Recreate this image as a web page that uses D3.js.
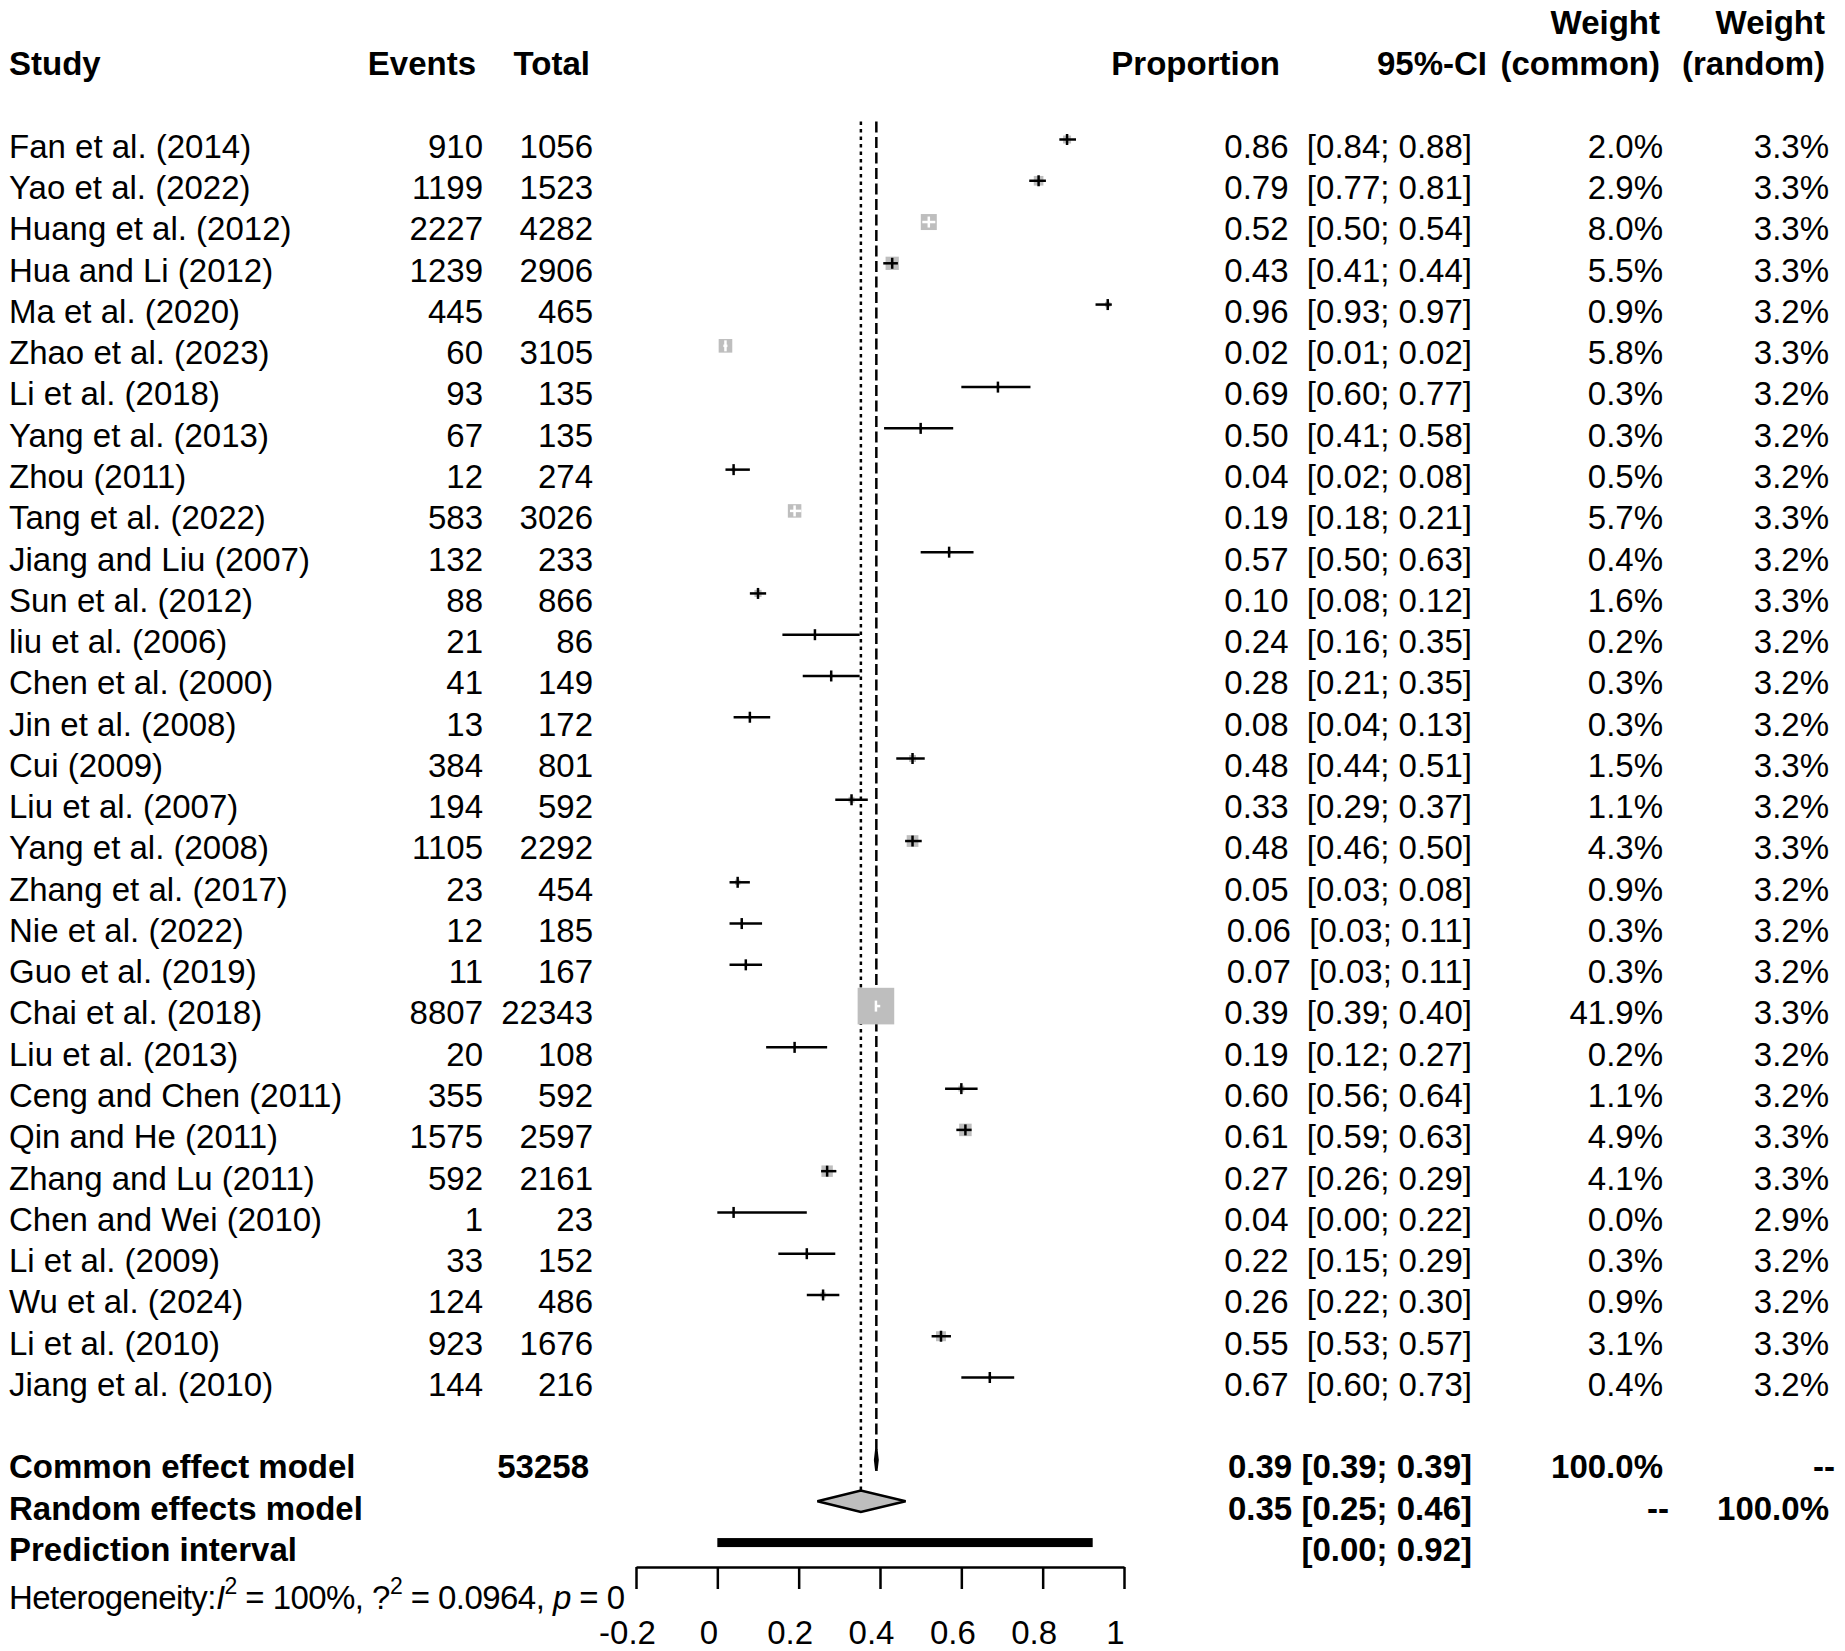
<!DOCTYPE html>
<html>
<head>
<meta charset="utf-8">
<script src="https://cdn.jsdelivr.net/npm/d3@7"></script>
<style>
  body { margin: 0; background: #fff; }
  text { font-family: "Liberation Sans", Arial, Helvetica, sans-serif; font-size: 33px; fill: #000; }
</style>
</head>
<body>
<svg id="chart" width="1845" height="1651"></svg>
<script>
// study rows, top to bottom
const studies = ['Fan et al. (2014)', 'Yao et al. (2022)', 'Huang et al. (2012)', 'Hua and Li (2012)',
  'Ma et al. (2020)', 'Zhao et al. (2023)', 'Li et al. (2018)', 'Yang et al. (2013)', 'Zhou (2011)',
  'Tang et al. (2022)', 'Jiang and Liu (2007)', 'Sun et al. (2012)', 'liu et al. (2006)', 'Chen et al. (2000)',
  'Jin et al. (2008)', 'Cui (2009)', 'Liu et al. (2007)', 'Yang et al. (2008)', 'Zhang et al. (2017)',
  'Nie et al. (2022)', 'Guo et al. (2019)', 'Chai et al. (2018)', 'Liu et al. (2013)', 'Ceng and Chen (2011)',
  'Qin and He (2011)', 'Zhang and Lu (2011)', 'Chen and Wei (2010)', 'Li et al. (2009)', 'Wu et al. (2024)',
  'Li et al. (2010)', 'Jiang et al. (2010)'];
const events = [910, 1199, 2227, 1239, 445, 60, 93, 67, 12, 583, 132, 88, 21, 41, 13, 384, 194, 1105, 23, 12, 11,
  8807, 20, 355, 1575, 592, 1, 33, 124, 923, 144];
const totals = [1056, 1523, 4282, 2906, 465, 3105, 135, 135, 274, 3026, 233, 866, 86, 149, 172, 801, 592, 2292,
  454, 185, 167, 22343, 108, 592, 2597, 2161, 23, 152, 486, 1676, 216];
const props = [0.86, 0.79, 0.52, 0.43, 0.96, 0.02, 0.69, 0.50, 0.04, 0.19, 0.57, 0.10, 0.24, 0.28, 0.08, 0.48,
  0.33, 0.48, 0.05, 0.06, 0.07, 0.39, 0.19, 0.60, 0.61, 0.27, 0.04, 0.22, 0.26, 0.55, 0.67];
const lowers = [0.841, 0.767, 0.504, 0.408, 0.93, 0.0148, 0.60, 0.41, 0.02, 0.1786, 0.50, 0.08, 0.16, 0.21, 0.04,
  0.44, 0.29, 0.4617, 0.03, 0.03, 0.03, 0.3878, 0.12, 0.56, 0.5877, 0.2551, 0.00, 0.15, 0.22, 0.5269, 0.60];
const uppers = [0.882, 0.808, 0.536, 0.444, 0.97, 0.0248, 0.77, 0.58, 0.08, 0.2067, 0.63, 0.12, 0.35, 0.35, 0.13,
  0.51, 0.37, 0.5026, 0.08, 0.11, 0.11, 0.4006, 0.27, 0.64, 0.6253, 0.2927, 0.22, 0.29, 0.30, 0.5745, 0.73];
const wCommon = [2.0, 2.9, 8.0, 5.5, 0.9, 5.8, 0.3, 0.3, 0.5, 5.7, 0.4, 1.6, 0.2, 0.3, 0.3, 1.5, 1.1, 4.3, 0.9,
  0.3, 0.3, 41.9, 0.2, 1.1, 4.9, 4.1, 0.0, 0.3, 0.9, 3.1, 0.4];
const wRandom = [3.3, 3.3, 3.3, 3.3, 3.2, 3.3, 3.2, 3.2, 3.2, 3.3, 3.2, 3.3, 3.2, 3.2, 3.2, 3.3, 3.2, 3.3, 3.2,
  3.2, 3.2, 3.3, 3.2, 3.2, 3.3, 3.3, 2.9, 3.2, 3.2, 3.3, 3.2];

// pooled estimates
const commonEst = [0.391, 0.388, 0.394];
const randomEst = [0.353, 0.246, 0.463];
const predInt = [0.0, 0.923];
const hetero = {i2: '100%', tau2: '0.0964', p: '0'};

const tickValues = [-0.2, 0, 0.2, 0.4, 0.6, 0.8, 1];
const tickLabels = ['-0.2', '0', '0.2', '0.4', '0.6', '0.8', '1'];

const svg = d3.select('#chart');
const x = d3.scaleLinear().domain([-0.2, 1]).range([636, 1124]);
const row = d3.scaleLinear().domain([0, 30]).range([146, 1384]);   // text centre of row i
const markY = i => row(i) - 6.5;
const f2 = v => v.toFixed(2);
const pct = v => v.toFixed(1) + '%';
const grey = '#bebebe';

// right edges of the columns
const col = {events: 483, total: 593, ci: 1472, wc: 1663, wr: 1829};

function txt(g, str, px, py, anchor, bold) {
  return g.append('text')
    .attr('x', px).attr('y', py).attr('dy', '0.36em')
    .attr('text-anchor', anchor || 'start')
    .attr('font-weight', bold ? 'bold' : null)
    .attr('xml:space', 'preserve')
    .text(str);
}

// header
const head = svg.append('g');
txt(head, 'Study', 9, row(-2), 'start', true);
txt(head, 'Events', col.events - 7, row(-2), 'end', true);
txt(head, 'Total', col.total - 3, row(-2), 'end', true);
txt(head, 'Proportion', 1280, row(-2), 'end', true);
txt(head, '95%-CI', col.ci + 15, row(-2), 'end', true);
txt(head, 'Weight', col.wc - 3, row(-3), 'end', true);
txt(head, '(common)', col.wc - 3, row(-2), 'end', true);
txt(head, 'Weight', col.wr - 4, row(-3), 'end', true);
txt(head, '(random)', col.wr - 4, row(-2), 'end', true);

// reference lines
const n = studies.length;
const sumRow = n + 1;
svg.append('line')
  .attr('x1', x(randomEst[0])).attr('x2', x(randomEst[0]))
  .attr('y1', markY(0) - 18).attr('y2', markY(sumRow + 1) - 10.7)
  .attr('stroke', '#000').attr('stroke-width', 2.5).attr('stroke-dasharray', '3.5,4');
svg.append('line')
  .attr('x1', x(commonEst[0])).attr('x2', x(commonEst[0]))
  .attr('y1', markY(0) - 18).attr('y2', markY(sumRow) + 10.7)
  .attr('stroke', '#000').attr('stroke-width', 2.5).attr('stroke-dasharray', '11,4.5');

// study rows
const rows = svg.append('g');
studies.forEach((s, i) => {
  const ty = row(i);
  txt(rows, s, 9, ty);
  txt(rows, String(events[i]), col.events, ty, 'end');
  txt(rows, String(totals[i]), col.total, ty, 'end');
  txt(rows, `${f2(props[i])}  [${f2(lowers[i])}; ${f2(uppers[i])}]`, col.ci, ty, 'end');
  txt(rows, pct(wCommon[i]), col.wc, ty, 'end');
  txt(rows, pct(wRandom[i]), col.wr, ty, 'end');

  const my = markY(i);
  const side = 5.654 * Math.sqrt(wCommon[i]);
  if (side > 0) {
    rows.append('rect')
      .attr('x', x(props[i]) - side / 2).attr('y', my - side / 2)
      .attr('width', side).attr('height', side)
      .attr('fill', grey);
  }
  const ciW = x(uppers[i]) - x(lowers[i]);
  const lineCol = ciW < side ? '#fff' : '#000';
  rows.append('line')
    .attr('x1', x(lowers[i])).attr('x2', x(uppers[i]))
    .attr('y1', my).attr('y2', my)
    .attr('stroke', lineCol).attr('stroke-width', 2.5);
  rows.append('line')
    .attr('x1', x(props[i])).attr('x2', x(props[i]))
    .attr('y1', my - 5.5).attr('y2', my + 5.5)
    .attr('stroke', lineCol).attr('stroke-width', 2.5);
});

// pooled rows
const pooled = svg.append('g');
txt(pooled, 'Common effect model', 9, row(sumRow), 'start', true);
txt(pooled, String(d3.sum(totals)), col.total - 4, row(sumRow), 'end', true);
txt(pooled, `${f2(commonEst[0])} [${f2(commonEst[1])}; ${f2(commonEst[2])}]`, col.ci, row(sumRow), 'end', true);
txt(pooled, '100.0%', col.wc, row(sumRow), 'end', true);
txt(pooled, '--', col.wr + 6, row(sumRow), 'end', true);

txt(pooled, 'Random effects model', 9, row(sumRow + 1), 'start', true);
txt(pooled, `${f2(randomEst[0])} [${f2(randomEst[1])}; ${f2(randomEst[2])}]`, col.ci, row(sumRow + 1), 'end', true);
txt(pooled, '--', col.wc + 6, row(sumRow + 1), 'end', true);
txt(pooled, '100.0%', col.wr, row(sumRow + 1), 'end', true);

txt(pooled, 'Prediction interval', 9, row(sumRow + 2), 'start', true);
txt(pooled, `[${f2(predInt[0])}; ${f2(predInt[1])}]`, col.ci, row(sumRow + 2), 'end', true);

const diamond = (est, yc, h) => {
  const [m, lo, hi] = est.map(x);
  return `M${lo},${yc} L${m},${yc - h} L${hi},${yc} L${m},${yc + h} Z`;
};
pooled.append('path')
  .attr('d', diamond(commonEst, markY(sumRow), 10.7))
  .attr('fill', grey).attr('stroke', '#000').attr('stroke-width', 2.5);
pooled.append('path')
  .attr('d', diamond(randomEst, markY(sumRow + 1), 10.7))
  .attr('fill', grey).attr('stroke', '#000').attr('stroke-width', 2.5);
pooled.append('rect')
  .attr('x', x(predInt[0])).attr('y', markY(sumRow + 2) - 4.5)
  .attr('width', x(predInt[1]) - x(predInt[0])).attr('height', 9)
  .attr('fill', '#000');

// heterogeneity line, squeezed to end just before the axis like the original
const het = svg.append('text')
  .attr('x', 9).attr('y', row(sumRow + 3) + 7).attr('dy', '0.36em')
  .attr('xml:space', 'preserve')
  .attr('textLength', 616).attr('lengthAdjust', 'spacing');
het.append('tspan').text('Heterogeneity:');
het.append('tspan').attr('font-style', 'italic').text('I');
het.append('tspan').attr('font-size', '23px').attr('dy', -15).text('2');
het.append('tspan').attr('dy', 15).text(` = ${hetero.i2}, `);
het.append('tspan').text('?');
het.append('tspan').attr('font-size', '23px').attr('dy', -15).text('2');
het.append('tspan').attr('dy', 15).text(` = ${hetero.tau2}, `);
het.append('tspan').attr('font-style', 'italic').text('p');
het.append('tspan').text(` = ${hetero.p}`);

// x axis
const xAxis = d3.axisBottom(x)
  .tickValues(tickValues)
  .tickFormat((d, i) => tickLabels[i])
  .tickSize(22)
  .tickSizeOuter(0)
  .tickPadding(32);
const xAxisG = svg.append('g')
  .attr('transform', 'translate(0,1567)')
  .call(xAxis)
  .attr('font-size', null)
  .attr('font-family', null);
xAxisG.select('.domain').attr('stroke-width', 2.5);
xAxisG.selectAll('.tick line').attr('stroke-width', 2.5);
xAxisG.selectAll('.tick text').attr('fill', '#000').attr('dx', -9);
</script>
</body>
</html>
